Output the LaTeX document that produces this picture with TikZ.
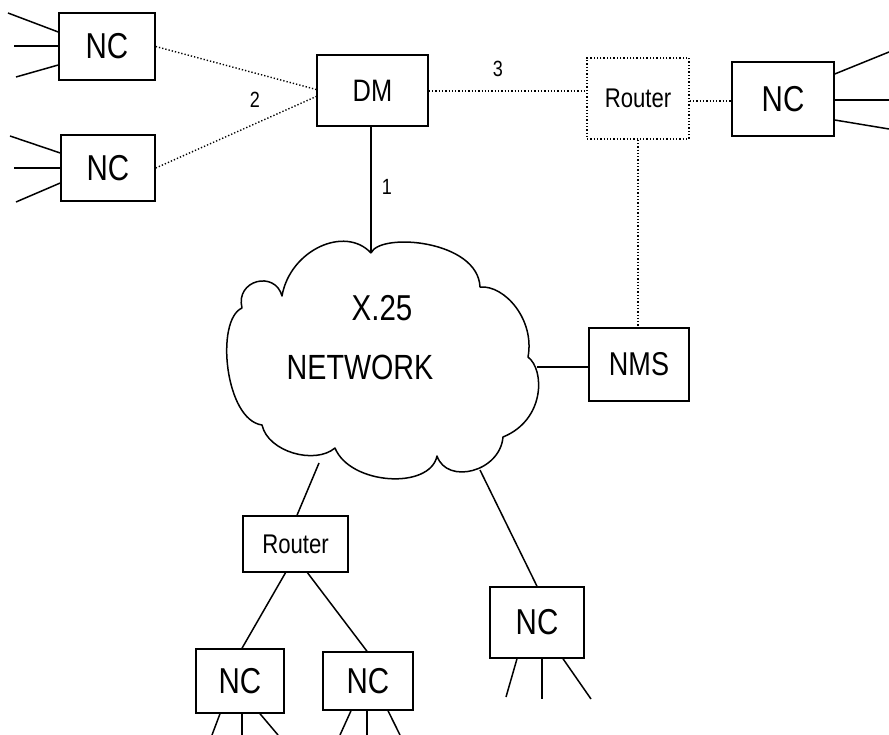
\documentclass[tikz,border=0pt]{standalone}
\usepackage{fontspec}
\setmainfont[FakeStretch=0.82]{Liberation Sans}
\usetikzlibrary{calc}

\tikzset{
  box/.style={draw, line width=1.5pt, inner sep=0pt, minimum width=#1},
  box/.default=96pt,
  dotbox/.style={draw, line width=1.4pt, dash pattern=on 1.3pt off 2pt, inner sep=0pt},
  wire/.style={line width=1.5pt},
  dotwire/.style={line width=1.4pt, dash pattern=on 1.3pt off 2pt},
  cloudline/.style={line width=1.5pt, line join=round},
  nctext/.style={font=\fontsize{36}{36}\selectfont},
  rtext/.style={font=\fontsize{27}{27}\selectfont},
  numtext/.style={font=\fontsize{22}{22}\selectfont},
}

\begin{document}
\begin{tikzpicture}[x=1pt, y=-1pt]
\useasboundingbox (0,0) rectangle (889,735);

% ---- boxes ----
\node[box=96pt, minimum height=67pt, nctext] (nc1) at (107,46.5) {NC};
\node[box=94pt, minimum height=66pt, nctext] (nc2) at (108,168) {NC};
\node[box=111pt, minimum height=71pt, font=\fontsize{31}{31}\selectfont] (dm) at (372.5,90.5) {DM};
\node[dotbox, minimum width=102pt, minimum height=81pt, rtext] (rt1) at (638,98.5) {Router};
\node[box=102pt, minimum height=74pt, nctext] (nc3) at (783,99) {NC};
\node[box=100pt, minimum height=73pt, font=\fontsize{33}{33}\selectfont] (nms) at (639,364.5) {NMS};
\node[box=105pt, minimum height=56pt, rtext] (rt2) at (295.5,544) {Router};
\node[box=88pt, minimum height=64pt, nctext] (nc4) at (240,681) {NC};
\node[box=90pt, minimum height=58pt, nctext] (nc5) at (368,681) {NC};
\node[box=94pt, minimum height=71pt, nctext] (nc6) at (537,622.5) {NC};

% ---- X.25 cloud ----
\coordinate (c1) at (371,253);
\coordinate (c2) at (480,287);
\coordinate (c3) at (528,357);
\coordinate (c4) at (503,437);
\coordinate (c5) at (437,456);
\coordinate (c6) at (335,448);
\coordinate (c7) at (262,425);
\coordinate (c8) at (242,308);
\coordinate (c9) at (282,296);
\draw[cloudline]
  (c1) .. controls (380,232) and (478,240) .. (c2)
       .. controls (505,285) and (535,320) .. (c3)
       .. controls (545,370) and (545,420) .. (c4)
       .. controls (500,472) and (447,485) .. (c5)
       .. controls (430,490) and (350,485) .. (c6)
       .. controls (315,465) and (268,452) .. (c7)
       .. controls (225,420) and (215,320) .. (c8)
       .. controls (235,280) and (275,270) .. (c9)
       .. controls (290,250) and (345,225) .. (c1);
\node[font=\fontsize{36}{36}\selectfont] (x25) at (382,308) {X.25};
\node[font=\fontsize{35}{35}\selectfont] (net) at (360,367) {NETWORK};

% attachment points on the cloud outline
\coordinate (cnms) at (537,367);
\coordinate (crt) at (319,463);
\coordinate (cnc) at (480,470);

% ---- links ----
\draw[wire] (c1 |- dm.south) -- (c1);
\draw[wire] (cnms) -- (cnms -| nms.west);
\draw[wire] (crt) -- ($(rt2.north)+(1.5,0)$);
\draw[wire] (cnc) -- (nc6.north);
\draw[wire] ($(rt2.south)+(-10,0)$) -- ($(nc4.north)+(2,0)$);
\draw[wire] ($(rt2.south)+(12,0)$) -- ($(nc5.north)+(-1,0)$);

\draw[dotwire] (nc1.east) -- ($(dm.west)+(0,-1)$);
\draw[dotwire] (nc2.east) -- ($(dm.west)+(0,6)$);
\draw[dotwire] ($(dm.east)+(0,0.5)$) -- ($(rt1.west)+(0,-7.5)$);
\draw[dotwire] ($(rt1.east)+(0,2.5)$) -- ($(nc3.west)+(0,2)$);
\draw[dotwire] (rt1.south) -- (rt1.south |- nms.north);

% ---- link labels ----
\node[numtext] (l2) at (255,100) {2};
\node[numtext] (l1) at (387,187) {1};
\node[numtext] (l3) at (498,69) {3};

% ---- terminal leads ----
\coordinate (a1) at (8,13);   \coordinate (a2) at (14,46);  \coordinate (a3) at (16,77);
\draw[wire] (a1) -- ($(nc1.west)+(0,-14.5)$);
\draw[wire] (a2) -- (nc1.west |- a2);
\draw[wire] (a3) -- ($(nc1.west)+(0,18.5)$);

\coordinate (b1) at (10,136); \coordinate (b2) at (14,168); \coordinate (b3) at (16,202);
\draw[wire] (b1) -- ($(nc2.west)+(0,-15)$);
\draw[wire] (b2) -- (nc2.west |- b2);
\draw[wire] (b3) -- ($(nc2.west)+(0,15)$);

\coordinate (d1) at (889,52); \coordinate (d2) at (889,100); \coordinate (d3) at (889,129);
\draw[wire] ($(nc3.east)+(0,-25)$) -- (d1);
\draw[wire] (nc3.east |- d2) -- (d2);
\draw[wire] ($(nc3.east)+(0,21)$) -- (d3);

\coordinate (e1) at (506,697); \coordinate (e2) at (542,699); \coordinate (e3) at (591,699);
\draw[wire] ($(nc6.south)+(-20,0)$) -- (e1);
\draw[wire] (e2 |- nc6.south) -- (e2);
\draw[wire] ($(nc6.south)+(26,0)$) -- (e3);

\coordinate (f1) at (212,735); \coordinate (f2) at (242,735); \coordinate (f3) at (278,735);
\draw[wire] ($(nc4.south)+(-20,0)$) -- (f1);
\draw[wire] (f2 |- nc4.south) -- (f2);
\draw[wire] ($(nc4.south)+(20,0)$) -- (f3);

\coordinate (g1) at (340,735); \coordinate (g2) at (367,735); \coordinate (g3) at (400,735);
\draw[wire] ($(nc5.south)+(-17,0)$) -- (g1);
\draw[wire] (g2 |- nc5.south) -- (g2);
\draw[wire] ($(nc5.south)+(20,0)$) -- (g3);
\end{tikzpicture}
\end{document}
